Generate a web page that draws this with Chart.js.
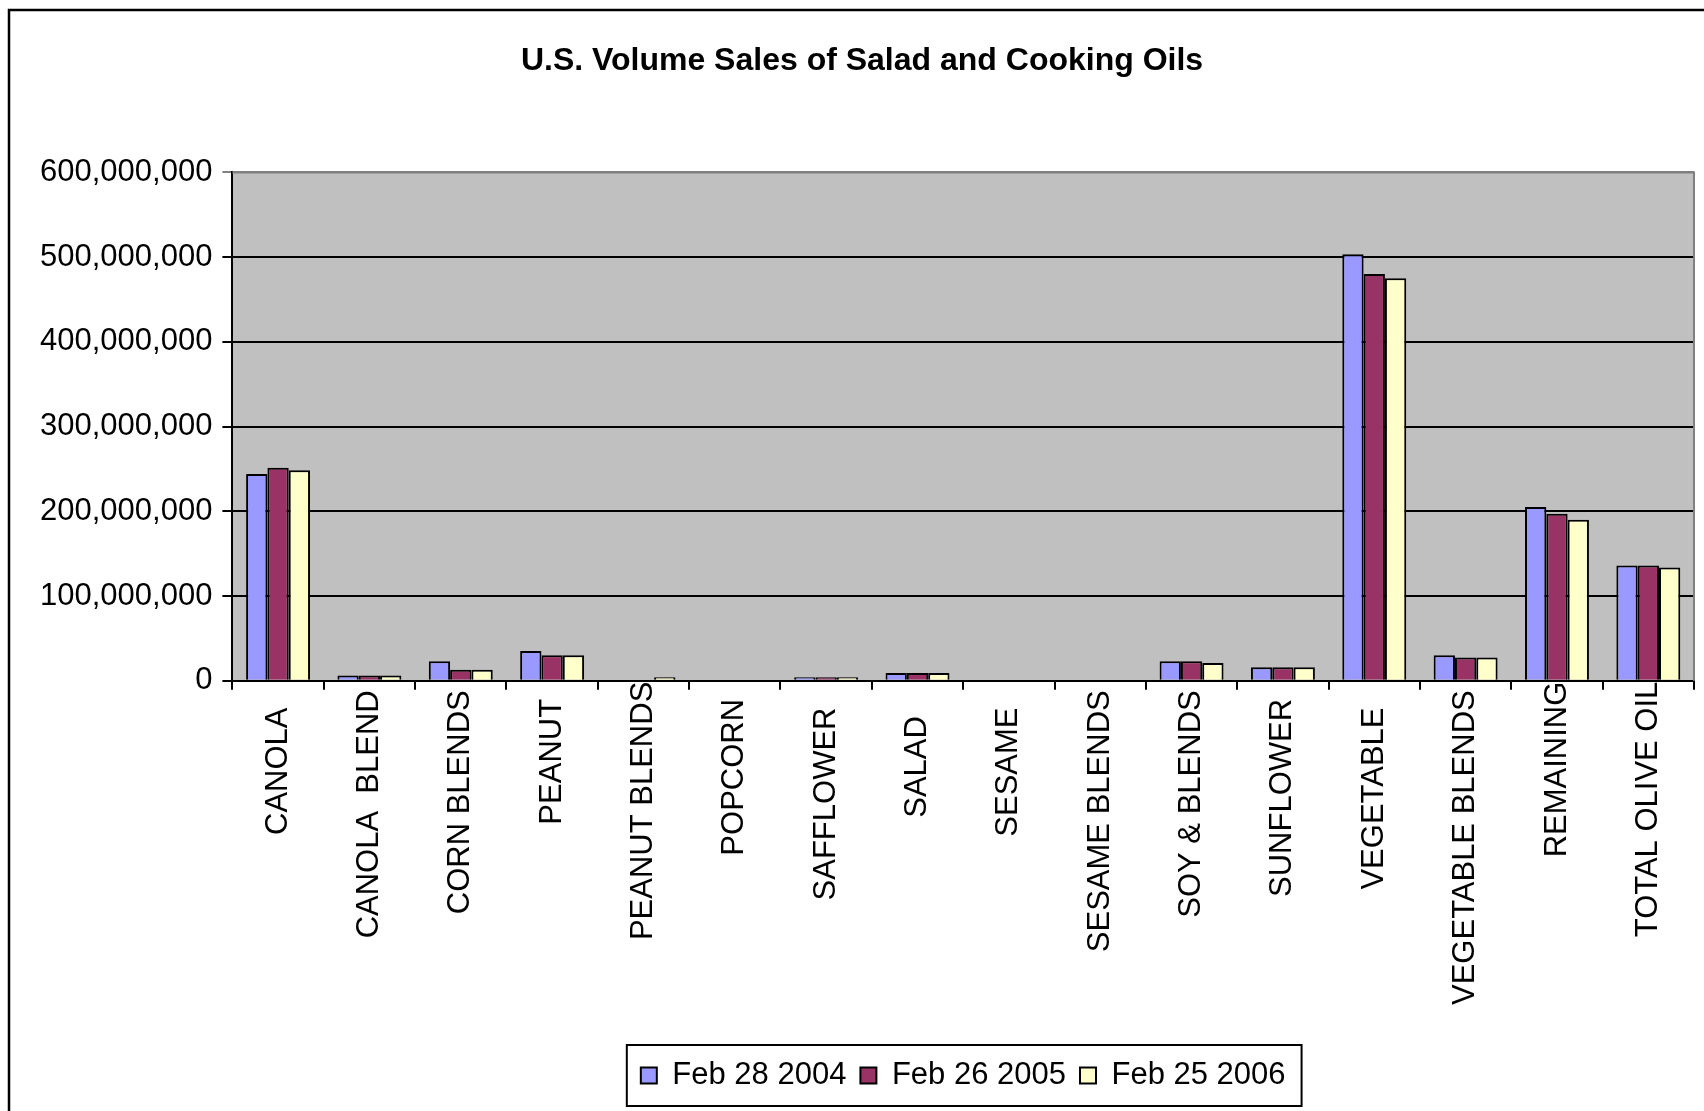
<!DOCTYPE html>
<html>
<head>
<meta charset="utf-8">
<script src="https://cdn.jsdelivr.net/npm/chart.js@4"></script>
<style>
  body { margin: 0; background: #fff; overflow: hidden; }
  #wrap { width: 1704px; height: 1111px; position: relative; }
</style>
</head>
<body>
<div id="wrap"><canvas id="oilChart"></canvas></div>
<script>
const categories = ['CANOLA', 'CANOLA  BLEND', 'CORN BLENDS', 'PEANUT', 'PEANUT BLENDS', 'POPCORN',
    'SAFFLOWER', 'SALAD', 'SESAME', 'SESAME BLENDS', 'SOY & BLENDS', 'SUNFLOWER', 'VEGETABLE',
    'VEGETABLE BLENDS', 'REMAINING', 'TOTAL OLIVE OIL'];
const seriesNames = ['Feb 28 2004', 'Feb 26 2005', 'Feb 25 2006'];
const feb2004 = [244000000, 6000000, 23000000, 35000000, 0, 0, 4000000, 9000000, 0, 0,
    23000000, 16000000, 503500000, 30000000, 205000000, 136000000];
const feb2005 = [251500000, 6000000, 13000000, 30000000, 0, 0, 4000000, 9000000, 0, 0,
    23000000, 16000000, 480000000, 27500000, 197000000, 136000000];
const feb2006 = [248500000, 6000000, 13000000, 30000000, 4000000, 0, 4000000, 9000000, 0, 0,
    21000000, 16000000, 475000000, 27500000, 190000000, 133500000];
const yTicks = [0, 100000000, 200000000, 300000000, 400000000, 500000000, 600000000];

const font = 'Liberation Sans, Arial, sans-serif';

// the source labels sit at uneven distances below the axis (trailing blanks)
const labelSpaces = [3, 1, 1, 2, 0, 2, 3, 4, 3, 1, 1, 2, 3, 1, 0, 0];

// grey plot background, plot border and outer frame
const framePlugin = {
    id: 'frame',
    beforeDraw(chart) {
        const ctx = chart.ctx;
        const a = chart.chartArea;
        ctx.save();
        ctx.fillStyle = '#fff';
        ctx.fillRect(0, 0, chart.width, chart.height);
        ctx.fillStyle = '#C0C0C0';
        ctx.fillRect(a.left, a.top, a.right - a.left, a.bottom - a.top);
        ctx.restore();
    },
    afterDraw(chart) {
        const ctx = chart.ctx;
        const a = chart.chartArea;
        ctx.save();
        ctx.strokeStyle = '#808080';
        ctx.lineWidth = 2;
        ctx.beginPath();
        ctx.moveTo(a.left, a.top);
        ctx.lineTo(a.right, a.top);
        ctx.lineTo(a.right, a.bottom);
        ctx.stroke();
        // outer frame
        ctx.strokeStyle = '#000';
        ctx.lineWidth = 2.5;
        ctx.strokeRect(9, 10, chart.width + 20, chart.height + 20);
        // legend box
        const boxes = chart.legend.legendHitBoxes;
        if (boxes && boxes.length) {
            const l = Math.min(...boxes.map(b => b.left)) - 14;
            const r = Math.max(...boxes.map(b => b.left + b.width)) + 16;
            const t = Math.min(...boxes.map(b => b.top)) - 15;
            const btm = Math.max(...boxes.map(b => b.top + b.height)) + 15;
            ctx.lineWidth = 2;
            ctx.strokeRect(l, t, r - l, btm - t);
        }
        ctx.restore();
    }
};

new Chart(document.getElementById('oilChart'), {
    type: 'bar',
    data: {
        labels: categories,
        datasets: [
            { label: seriesNames[0], data: feb2004, backgroundColor: '#9999FF' },
            { label: seriesNames[1], data: feb2005, backgroundColor: '#993366' },
            { label: seriesNames[2], data: feb2006, backgroundColor: '#FFFFCC' }
        ]
    },
    options: {
        responsive: true,
        maintainAspectRatio: false,
        animation: false,
        layout: { padding: { top: 42, left: 30, right: 10, bottom: 10 } },
        datasets: {
            bar: {
                borderColor: '#000',
                borderWidth: 2,
                categoryPercentage: 0.7,
                barPercentage: 1
            }
        },
        plugins: {
            title: {
                display: true,
                text: 'U.S. Volume Sales of Salad and Cooking Oils',
                color: '#000',
                font: { family: font, size: 32, weight: 'bold' },
                padding: { top: 0, bottom: 92 }
            },
            legend: {
                position: 'bottom',
                fullSize: false,
                labels: {
                    color: '#000',
                    font: { family: font, size: 31 },
                    boxWidth: 16,
                    boxHeight: 16,
                    padding: 14,
                    useBorderRadius: false
                }
            },
            tooltip: { enabled: false }
        },
        scales: {
            x: {
                offset: true,
                afterFit(scale) {
                    scale.height += 49;
                },
                grid: {
                    offset: true,
                    drawOnChartArea: false,
                    color: '#000',
                    lineWidth: 2,
                    tickLength: 9
                },
                border: { color: '#000', width: 2 },
                ticks: {
                    color: '#000',
                    font: { family: font, size: 31 },
                    autoSkip: false,
                    minRotation: 90,
                    maxRotation: 90,
                    padding: -8,
                    callback: (v, i) => categories[i] + ' '.repeat(labelSpaces[i])
                }
            },
            y: {
                min: 0,
                max: 600000000,
                afterBuildTicks(scale) {
                    scale.ticks = yTicks.map(v => ({ value: v }));
                },
                grid: {
                    color: ctx => (ctx.tick && ctx.tick.value === 600000000 ? '#808080' : '#000'),
                    lineWidth: 2,
                    tickLength: 10
                },
                border: { color: '#000', width: 2 },
                ticks: {
                    color: '#000',
                    font: { family: font, size: 31 },
                    padding: 10,
                    callback: v => v.toLocaleString('en-US')
                }
            }
        }
    },
    plugins: [framePlugin]
});
</script>
</body>
</html>
